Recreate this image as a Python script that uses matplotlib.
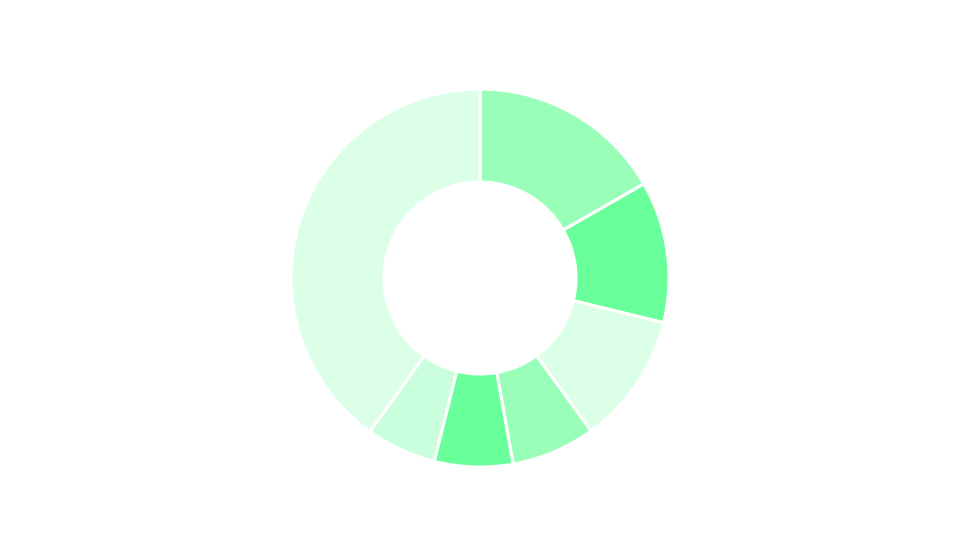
import matplotlib
matplotlib.use("Agg")
import matplotlib.pyplot as plt

# slice values (percent), clockwise from the top
values = [16.7, 12.1, 11.2, 7.2, 6.7, 6.0, 40.1]
colors = ["#99ffb8", "#69ff9a", "#dcffe7", "#99ffb8", "#69ff9a", "#c9ffdc", "#dcffe7"]

fig = plt.figure(figsize=(9.6, 5.4), dpi=100)
ax = fig.add_axes([0, 0, 1, 1])

r_px = 189
ax.pie(values, colors=colors, startangle=90, counterclock=False, radius=1,
       wedgeprops=dict(width=93 / r_px, edgecolor="white", linewidth=2.2))

# place the donut centre at (480, 278) px
ax.set_xlim(-480 / r_px, 480 / r_px)
ax.set_ylim(-(540 - 278) / r_px, 278 / r_px)
ax.set_aspect("equal")
ax.axis("off")

fig.savefig("out.png", dpi=100, facecolor="white")
